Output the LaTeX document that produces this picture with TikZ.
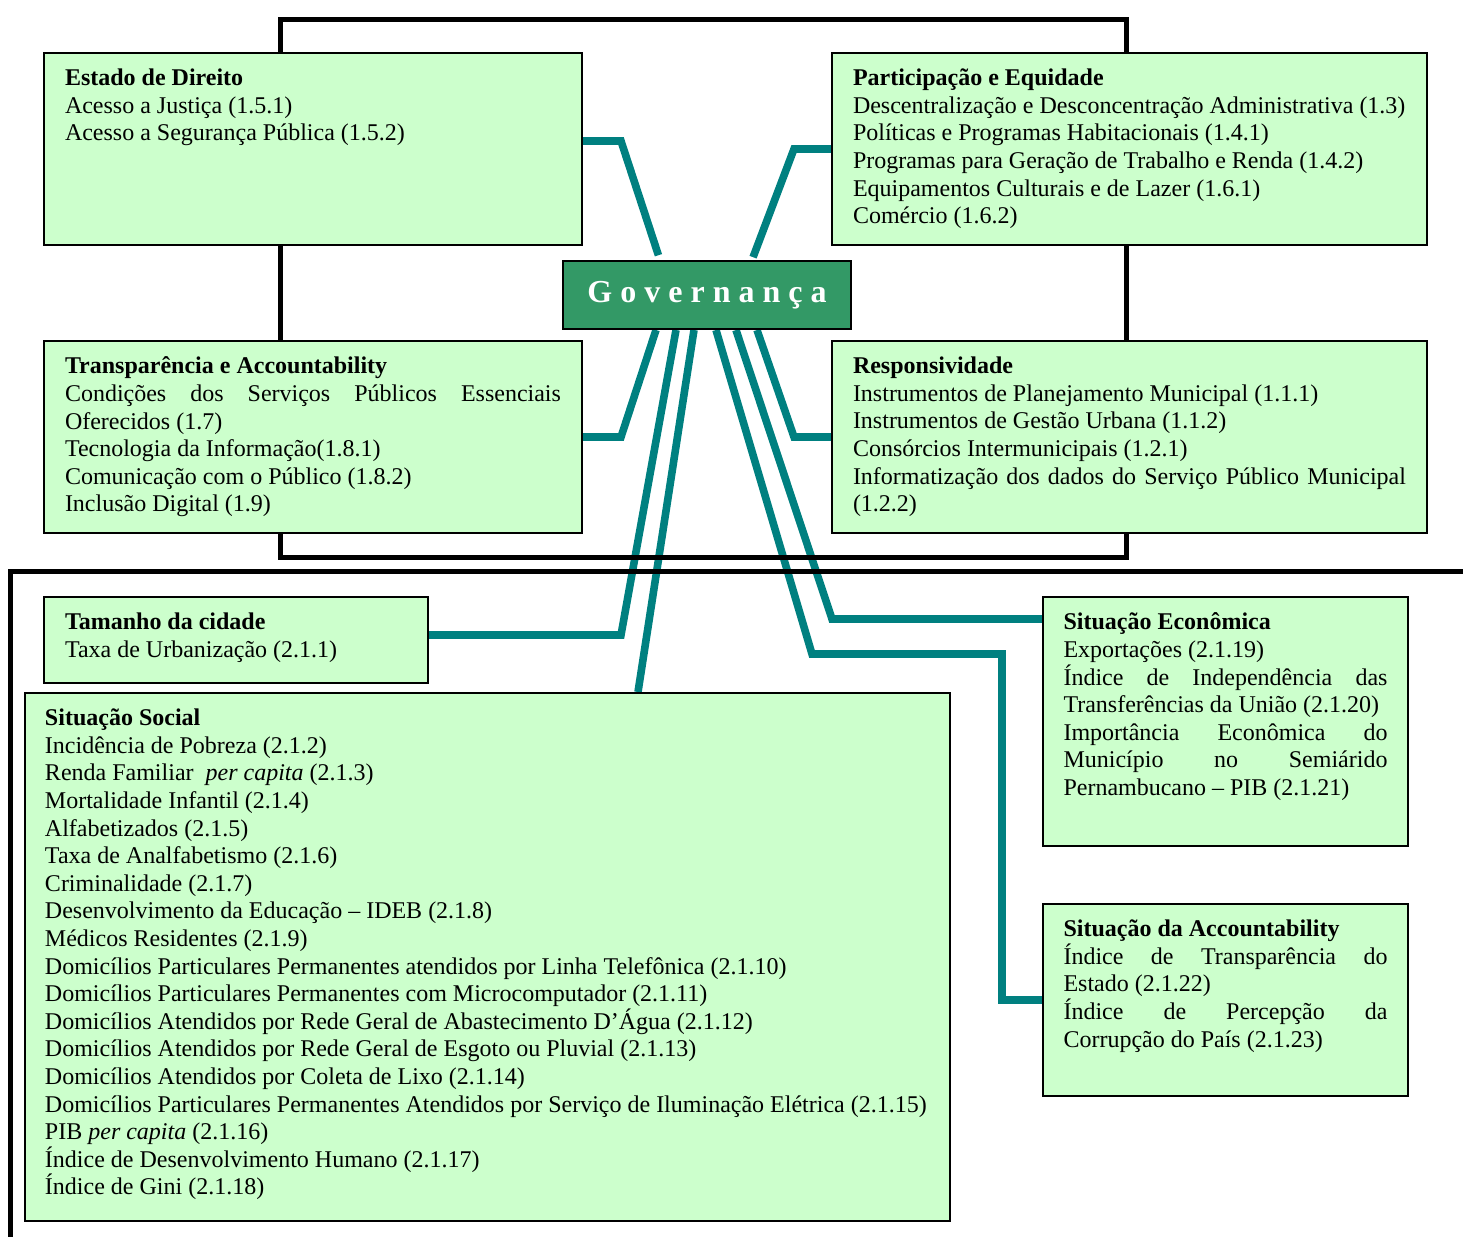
\documentclass[tikz,border=0pt]{standalone}
\usepackage{fontspec}
\setmainfont{Liberation Serif}
\usetikzlibrary{calc,backgrounds}

\definecolor{boxgreen}{HTML}{CCFFCC}
\definecolor{govgreen}{HTML}{339966}
\definecolor{linkteal}{HTML}{008080}

% text block of a box: width, height, lines
\newcommand{\boxtext}[3]{\parbox[c][#2][t]{#1}{\fontsize{12}{13.8}\selectfont
  \hyphenpenalty=10000 \exhyphenpenalty=10000 \hbadness=10000 #3}}

\tikzset{
  gbox/.style={draw, line width=1pt, fill=boxgreen, anchor=north west,
    inner xsep=10.5pt, inner ysep=8pt},
  govbox/.style={draw, line width=1pt, fill=govgreen, text=white,
    minimum width=144pt, minimum height=34pt, font=\fontsize{16}{19}\selectfont\bfseries},
  frame/.style={line width=2.5pt},
  link/.style={draw=linkteal, line width=3.8pt},
}

\begin{document}
\begin{tikzpicture}[x=0.5pt,y=-0.5pt]
  \useasboundingbox (0,0) rectangle (1463,1237);

  \node[govbox] (gov) at (707,295) {G o v e r n a n ç a};

  % dimension 1
  \node[gbox] (estado) at (43,52) {\boxtext{248pt}{80pt}{%
    \textbf{Estado de Direito}\par
    Acesso a Justiça (1.5.1)\par
    Acesso a Segurança Pública (1.5.2)}};
  \node[gbox] (particip) at (831,52) {\boxtext{276.5pt}{80pt}{%
    \textbf{Participação e Equidade}\par
    Descentralização e Desconcentração Administrativa (1.3)\par
    Políticas e Programas Habitacionais (1.4.1)\par
    Programas para Geração de Trabalho e Renda (1.4.2)\par
    Equipamentos Culturais e de Lazer (1.6.1)\par
    Comércio (1.6.2)}};
  \node[gbox] (transp) at (43,340) {\boxtext{248pt}{80pt}{%
    \textbf{Transparência e Accountability}\par
    Condições dos Serviços Públicos Essenciais\linebreak Oferecidos (1.7)\par
    Tecnologia da Informação(1.8.1)\par
    Comunicação com o Público (1.8.2)\par
    Inclusão Digital (1.9)}};
  \node[gbox] (respons) at (831,340) {\boxtext{276.5pt}{80pt}{%
    \textbf{Responsividade}\par
    Instrumentos de Planejamento Municipal (1.1.1)\par
    Instrumentos de Gestão Urbana (1.1.2)\par
    Consórcios Intermunicipais (1.2.1)\par
    Informatização dos dados do Serviço Público Municipal\linebreak (1.2.2)}};

  % dimension 2
  \node[gbox] (tamanho) at (43,596) {\boxtext{171pt}{27pt}{%
    \textbf{Tamanho da cidade}\par
    Taxa de Urbanização (2.1.1)}};
  \node[gbox, inner xsep=8.25pt] (social) at (24,692) {\boxtext{446pt}{248pt}{%
    \leftskip=1.75pt
    \textbf{Situação Social}\par
    Incidência de Pobreza (2.1.2)\par
    Renda Familiar \ \textit{per capita} (2.1.3)\par
    Mortalidade Infantil (2.1.4)\par
    Alfabetizados (2.1.5)\par
    Taxa de Analfabetismo (2.1.6)\par
    Criminalidade (2.1.7)\par
    Desenvolvimento da Educação – IDEB (2.1.8)\par
    Médicos Residentes (2.1.9)\par
    Domicílios Particulares Permanentes atendidos por Linha Telefônica (2.1.10)\par
    Domicílios Particulares Permanentes com Microcomputador (2.1.11)\par
    Domicílios Atendidos por Rede Geral de Abastecimento D’Água (2.1.12)\par
    Domicílios Atendidos por Rede Geral de Esgoto ou Pluvial (2.1.13)\par
    Domicílios Atendidos por Coleta de Lixo (2.1.14)\par
    Domicílios Particulares Permanentes Atendidos por Serviço de Iluminação Elétrica (2.1.15)\par
    PIB \textit{per capita} (2.1.16)\par
    Índice de Desenvolvimento Humano (2.1.17)\par
    Índice de Gini (2.1.18)}};
  \node[gbox, inner xsep=10.25pt] (econ) at (1042,596) {\boxtext{162pt}{108.5pt}{%
    \textbf{Situação Econômica}\par
    Exportações (2.1.19)\par
    Índice de Independência das\linebreak Transferências da União (2.1.20)\par
    Importância Econômica do\linebreak Município no Semiárido\linebreak Pernambucano – PIB (2.1.21)}};
  \node[gbox, inner xsep=10.25pt] (account) at (1042,903) {\boxtext{162pt}{80pt}{%
    \textbf{Situação da Accountability}\par
    Índice de Transparência do\linebreak Estado (2.1.22)\par
    Índice de Percepção da\linebreak Corrupção do País (2.1.23)}};

  \coordinate (t1) at ($(gov.north west)+(98,0)$);
  \coordinate (t2) at ($(gov.north west)+(190,0)$);
  \coordinate (g1) at ($(gov.south west)+(94,0)$);
  \coordinate (g2) at ($(gov.south west)+(114,0)$);
  \coordinate (g3) at ($(gov.south west)+(132,0)$);
  \coordinate (g4) at ($(gov.south west)+(154,0)$);
  \coordinate (g5) at ($(gov.south west)+(174,0)$);
  \coordinate (g6) at ($(gov.south west)+(195,0)$);

  \begin{pgfonlayer}{background}
    \draw[link, shorten >=2.5pt] ([yshift=4pt]estado.east) -- ++(38,0) -- (t1);
    \draw[link, shorten >=1.5pt] (particip.west) -- ++(-37,0) -- (t2);
    \draw[link] (transp.east) -- ++(38,0) -- (g1);
    \draw[link] (respons.west) -- ++(-37,0) -- (g6);
    \draw[link] ([yshift=2.5pt]tamanho.east) -- ++(192,0) -- (g2);
    \draw[link] ($(social.north west)+(614,0)$) -- (g3);
    \draw[link] ($(econ.north west)+(0,23)$) -- ++(-210,0) -- (g5);
    \draw[link] (account.west) -- ++(-40,0) |- ++(-190,-346) -- (g4);
    % frames
    \draw[frame] (280,19) rectangle (1126,557);
    \draw[frame] (1463,571) -- (10,571) -- (10,1237);
  \end{pgfonlayer}
\end{tikzpicture}
\end{document}
